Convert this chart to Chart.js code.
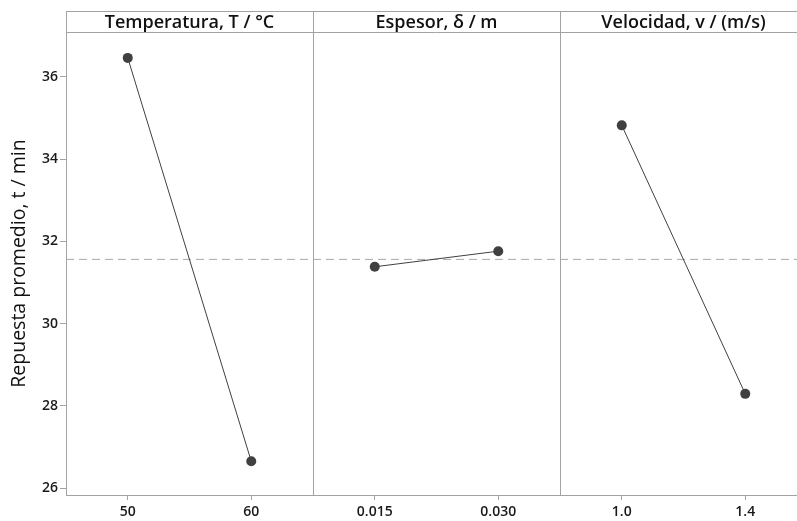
<!DOCTYPE html>
<html>
<head>
<meta charset="utf-8">
<script src="https://cdn.jsdelivr.net/npm/chart.js@4.4.1/dist/chart.umd.min.js"></script>
<style>
  html, body { margin: 0; padding: 0; background: #fff; overflow: hidden; }
  #wrap { width: 812px; height: 521px; }
</style>
</head>
<body>
<div id="wrap"><canvas id="mainEffects"></canvas></div>
<script>
// datos del gráfico de efectos principales
const factorTitles = ["Temperatura, T / °C", "Espesor, δ / m", "Velocidad, v / (m/s)"];
const levelLabels = [["50", "60"], ["0.015", "0.030"], ["1.0", "1.4"]];
const tempMeans = [36.46, 26.65];
const thickMeans = [31.38, 31.76];
const speedMeans = [34.82, 28.29];
const yTicks = [26, 28, 30, 32, 34, 36];
const yMin = 25.83, yMax = 37.09;
const levelPos = [0.25, 0.75]; // posición de cada nivel dentro de su panel

const allMeans = [tempMeans, thickMeans, speedMeans];
const grandMean = allMeans.flat().reduce((a, b) => a + b, 0) / allMeans.flat().length;

const FONT = "'Open Sans', 'DejaVu Sans', sans-serif";
const FRAME = "#a3a3a3";
const MARK = "#404040";

const datasets = allMeans.map((means, i) => ({
    data: means.map((v, j) => ({ x: i + levelPos[j], y: v })),
    borderColor: MARK,
    borderWidth: 1,
    pointRadius: 5,
    pointBackgroundColor: MARK,
    pointBorderWidth: 0
}));
// línea de la media global (al final -> se dibuja debajo)
datasets.push({
    data: [{ x: 0, y: grandMean }, { x: allMeans.length, y: grandMean }],
    borderColor: "#a8a8a8",
    borderWidth: 1,
    borderDash: [8, 5],
    pointRadius: 0
});

// marco, cabecera y divisiones de panel
const panelFrame = {
    id: "panelFrame",
    beforeDatasetsDraw(chart) {
        const ctx = chart.ctx;
        const area = chart.chartArea;
        const x = chart.scales.x;
        const headTop = 11;
        ctx.save();
        ctx.strokeStyle = FRAME;
        ctx.lineWidth = 1;
        ctx.beginPath();
        ctx.moveTo(area.left, headTop + 0.5);
        ctx.lineTo(area.right, headTop + 0.5);
        ctx.moveTo(area.left, area.top + 0.5);
        ctx.lineTo(area.right, area.top + 0.5);
        ctx.moveTo(area.left + 0.5, headTop);
        ctx.lineTo(area.left + 0.5, area.top);
        for (let i = 1; i <= factorTitles.length; i++) {
            const px = Math.round(x.getPixelForValue(i)) + 0.5;
            ctx.moveTo(px, headTop);
            ctx.lineTo(px, area.bottom);
        }
        ctx.stroke();
        ctx.fillStyle = "#111";
        ctx.font = "600 18px " + FONT;
        ctx.textAlign = "center";
        ctx.textBaseline = "middle";
        factorTitles.forEach((t, i) => {
            ctx.fillText(t, x.getPixelForValue(i + 0.5), (headTop + area.top) / 2 + 1);
        });
        ctx.restore();
    }
};

new Chart(document.getElementById("mainEffects"), {
    type: "line",
    data: { datasets: datasets },
    options: {
        responsive: true,
        maintainAspectRatio: false,
        animation: false,
        layout: { padding: { top: 32, left: 0, right: 5, bottom: 0 } },
        plugins: { legend: { display: false }, tooltip: { enabled: false } },
        scales: {
            x: {
                type: "linear",
                min: 0,
                max: factorTitles.length,
                afterBuildTicks(axis) {
                    const t = [];
                    for (let i = 0; i < factorTitles.length; i++) {
                        levelPos.forEach(p => t.push({ value: i + p }));
                    }
                    axis.ticks = t;
                },
                afterFit(scale) { scale.height = 26; },
                ticks: {
                    autoSkip: false,
                    maxRotation: 0,
                    padding: 4,
                    color: "#1a1a1a",
                    font: { family: FONT, size: 14, weight: "600" },
                    callback: (value, index) => levelLabels.flat()[index]
                },
                grid: { drawOnChartArea: false, tickLength: 5, color: FRAME },
                border: { color: FRAME }
            },
            y: {
                min: yMin,
                max: yMax,
                afterBuildTicks(axis) { axis.ticks = yTicks.map(v => ({ value: v })); },
                afterFit(scale) { scale.width = 66; },
                ticks: {
                    padding: 2,
                    color: "#1a1a1a",
                    font: { family: FONT, size: 14, weight: "600" }
                },
                grid: { drawOnChartArea: false, tickLength: 6, color: FRAME },
                border: { color: FRAME },
                title: {
                    display: true,
                    text: "Repuesta promedio, t / min",
                    color: "#111",
                    font: { family: FONT, size: 19.5 },
                    padding: { top: 8, bottom: 0 }
                }
            }
        }
    },
    plugins: [panelFrame]
});
</script>
</body>
</html>
